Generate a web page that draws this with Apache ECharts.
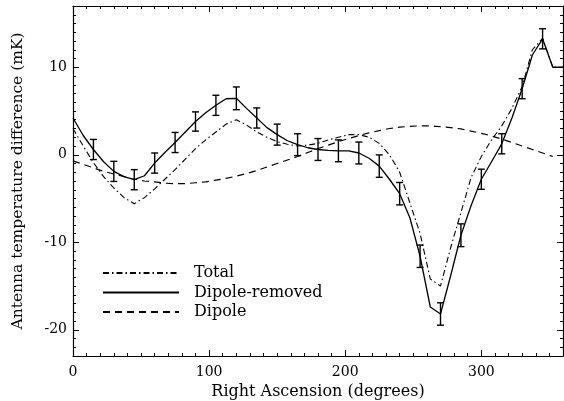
<!DOCTYPE html>
<html><head><meta charset="utf-8">
<script src="https://cdn.jsdelivr.net/npm/echarts@6/dist/echarts.min.js"></script>
<style>html,body{margin:0;padding:0;background:#fff}#c{width:564px;height:401px}</style>
</head><body><div id="c"></div>
<script>
// Right ascension samples (degrees)
const angles = [0,7.5,15,22.5,30,37.5,45,52.5,60,67.5,75,82.5,90,97.5,105,112.5,120,127.5,135,142.5,150,157.5,165,172.5,180,187.5,195,202.5,210,217.5,225,232.5,240,247.5,255,262.5,270,277.5,285,292.5,300,307.5,315,322.5,330,337.5,345,352.5,360];
// Dipole-removed (mK)
const dipoleRemoved = [4.2,2.2,0.6,-0.8,-1.9,-2.5,-2.85,-2.4,-0.95,0.25,1.4,2.6,3.8,4.8,5.65,6.4,6.45,5.3,4.2,3.1,2.3,1.6,1.15,0.8,0.6,0.5,0.45,0.45,0.2,-0.4,-1.3,-2.8,-4.45,-7.2,-11.6,-17.4,-18.2,-13.8,-9.2,-5.8,-2.8,-0.8,1.25,4.2,7.55,11.4,13.25,10.0,10.0];
// Total (mK)
const total = [3.0,1.0,-0.9,-2.5,-3.8,-4.9,-5.6,-4.9,-3.9,-2.8,-1.7,-0.5,0.7,1.7,2.6,3.5,4.0,3.4,2.6,2.0,1.5,1.2,1.0,1.1,1.3,1.7,2.0,2.3,2.3,2.0,1.3,0.0,-2.0,-5.5,-9.0,-14.2,-15.0,-10.6,-6.6,-2.6,-0.2,1.7,3.3,5.3,7.8,12.0,13.3,10.0,10.0];
// Dipole (mK)
const dipoleAngles = [0,7.5,15,22.5,30,37.5,45,52.5,60,67.5,75,82.5,90,97.5,105,112.5,120,127.5,135,142.5,150,157.5,165,172.5,180,187.5,195,202.5,210,217.5,225,232.5,240,247.5,255,262.5,270,277.5,285,292.5,300,307.5,315,322.5,330,337.5,345,352.5];
const dipole = [-0.7,-1.1,-1.5,-1.9,-2.2,-2.5,-2.8,-3.0,-3.1,-3.25,-3.3,-3.3,-3.2,-3.1,-2.9,-2.7,-2.45,-2.15,-1.8,-1.4,-1.0,-0.6,-0.2,0.25,0.7,1.1,1.5,1.85,2.2,2.5,2.75,3.0,3.15,3.25,3.3,3.3,3.2,3.1,2.95,2.7,2.45,2.15,1.8,1.4,1.0,0.6,0.2,-0.2];
// Error bars on dipole-removed points
const errAngles = [15,30,45,60,75,90,105,120,135,150,165,180,195,210,225,240,255,270,285,300,315,330,345];
const errSizes = [1.15,1.15,1.15,1.15,1.15,1.1,1.15,1.3,1.15,1.2,1.25,1.25,1.25,1.25,1.28,1.28,1.28,1.28,1.3,1.15,1.15,1.15,1.15];
// Tick labels
const xMajorTicks = [0,100,200,300];
const yMajorTicks = [-20,-10,0,10];

const FONT = 'DejaVu Serif';
const pair = (xs, ys) => xs.map((x, i) => [x, ys[i]]);
const errData = errAngles.map((a, i) => {
  const k = angles.indexOf(a);
  return [a, dipoleRemoved[k], errSizes[i]];
});

const axisLineStyle = { show: true, onZero: false, lineStyle: { color: '#000', width: 1.2 } };
function xAx(pos, major, withLabel) {
  return {
    type: 'value', position: pos, min: 0, max: 360, interval: 10,
    axisLine: major ? { show: false, onZero: false } : axisLineStyle,
    splitLine: { show: false },
    axisTick: major
      ? { show: true, inside: true, length: 6, customValues: xMajorTicks, lineStyle: { color: '#000', width: 1 } }
      : { show: true, inside: true, length: 3, lineStyle: { color: '#000', width: 1 } },
    axisLabel: withLabel
      ? { show: true, customValues: xMajorTicks, margin: 9, color: '#000', fontFamily: FONT, fontSize: 14 }
      : { show: false },
    name: withLabel ? 'Right Ascension (degrees)' : '',
    nameLocation: 'middle', nameGap: 28,
    nameTextStyle: { color: '#000', fontFamily: FONT, fontSize: 16 }
  };
}
function yAx(pos, major, withLabel) {
  return {
    type: 'value', position: pos, min: -23, max: 17, interval: 1,
    axisLine: major ? { show: false, onZero: false } : axisLineStyle,
    splitLine: { show: false },
    axisTick: major
      ? { show: true, inside: true, length: 6, customValues: yMajorTicks, lineStyle: { color: '#000', width: 1 } }
      : { show: true, inside: true, length: 3, lineStyle: { color: '#000', width: 1 } },
    axisLabel: withLabel
      ? { show: true, customValues: yMajorTicks, margin: 6, color: '#000', fontFamily: FONT, fontSize: 14 }
      : { show: false },
    name: withLabel ? 'Antenna temperature difference (mK)' : '',
    nameLocation: 'middle', nameGap: 47,
    nameTextStyle: { color: '#000', fontFamily: FONT, fontSize: 15.5 }
  };
}

const chart = echarts.init(document.getElementById('c'), null, { renderer: 'canvas' });
chart.setOption({
  animation: false,
  backgroundColor: '#fff',
  grid: { left: 73, right: 1, top: 6, bottom: 45, containLabel: false, outerBoundsMode: 'none' },
  xAxis: [xAx('bottom', false, true), xAx('bottom', true, false), xAx('top', false, false), xAx('top', true, false)],
  yAxis: [yAx('left', false, true), yAx('left', true, false), yAx('right', false, false), yAx('right', true, false)],
  legend: {
    data: ['Total', 'Dipole-removed', 'Dipole'],
    orient: 'vertical', left: 102, top: 265, padding: 0,
    itemWidth: 76, itemHeight: 14, itemGap: 3.5,
    itemStyle: { opacity: 0 },
    textStyle: { color: '#000', fontFamily: FONT, fontSize: 16, padding: [0, 0, 0, 10] }
  },
  series: [
    { name: 'Total', type: 'line', data: pair(angles, total), symbol: 'none',
      lineStyle: { color: '#000', width: 1.1, type: [6, 3, 1.5, 3] }, itemStyle: { color: '#000' } },
    { name: 'Dipole-removed', type: 'line', data: pair(angles, dipoleRemoved), symbol: 'none',
      lineStyle: { color: '#000', width: 1.3, type: 'solid' }, itemStyle: { color: '#000' } },
    { name: 'Dipole', type: 'line', data: pair(dipoleAngles, dipole), symbol: 'none',
      lineStyle: { color: '#000', width: 1.2, type: [7, 5] }, itemStyle: { color: '#000' } },
    { name: 'errors', type: 'custom', data: errData,
      renderItem: function (params, api) {
        const x = api.value(0), y = api.value(1), e = api.value(2);
        const lo = api.coord([x, y - e]), hi = api.coord([x, y + e]);
        const w = 3.5;
        const st = { stroke: '#000', lineWidth: 1.4 };
        return { type: 'group', children: [
          { type: 'line', shape: { x1: lo[0], y1: lo[1], x2: hi[0], y2: hi[1] }, style: st },
          { type: 'line', shape: { x1: lo[0] - w, y1: lo[1], x2: lo[0] + w, y2: lo[1] }, style: st },
          { type: 'line', shape: { x1: hi[0] - w, y1: hi[1], x2: hi[0] + w, y2: hi[1] }, style: st }
        ]};
      }, z: 3 }
  ]
});
</script></body></html>
